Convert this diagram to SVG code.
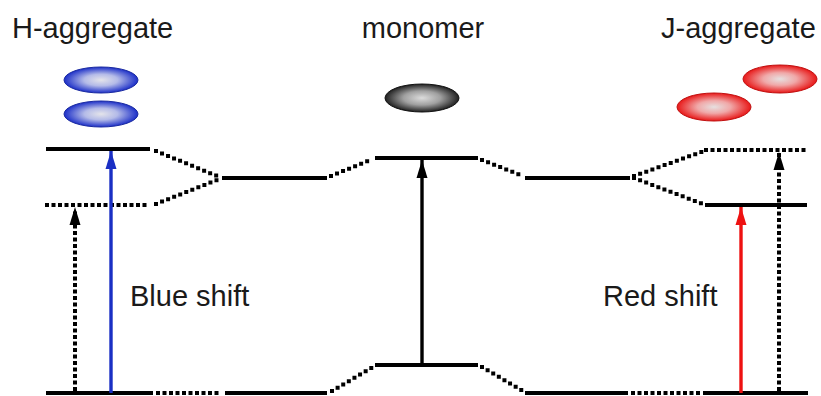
<svg xmlns="http://www.w3.org/2000/svg" width="821" height="396" viewBox="0 0 821 396">
<defs>
<radialGradient id="gBlue" cx="50%" cy="50%" r="50%">
<stop offset="0" stop-color="#e4e4ea"/>
<stop offset="0.45" stop-color="#b4bbe8"/>
<stop offset="1" stop-color="#1c2fc8"/>
</radialGradient>
<radialGradient id="gGray" cx="50%" cy="50%" r="50%">
<stop offset="0" stop-color="#dcdcdc"/>
<stop offset="0.5" stop-color="#a0a0a0"/>
<stop offset="1" stop-color="#202020"/>
</radialGradient>
<radialGradient id="gRed" cx="50%" cy="50%" r="50%">
<stop offset="0" stop-color="#e6e0e0"/>
<stop offset="0.45" stop-color="#f0a8a8"/>
<stop offset="1" stop-color="#e81818"/>
</radialGradient>
<marker id="ahK" markerUnits="userSpaceOnUse" markerWidth="20" markerHeight="12" refX="0" refY="0" orient="auto" overflow="visible">
<path d="M0 0 L-18 -5.5 L-18 5.5 Z" fill="#000"/>
</marker>
<marker id="ahB" markerUnits="userSpaceOnUse" markerWidth="20" markerHeight="12" refX="0" refY="0" orient="auto" overflow="visible">
<path d="M0 0 L-18 -5.5 L-18 5.5 Z" fill="#1a2fc4"/>
</marker>
<marker id="ahR" markerUnits="userSpaceOnUse" markerWidth="20" markerHeight="12" refX="0" refY="0" orient="auto" overflow="visible">
<path d="M0 0 L-18 -5.5 L-18 5.5 Z" fill="#ee1111"/>
</marker>
</defs>
<style>
.lbl{font-family:"Liberation Sans",Arial,sans-serif;font-size:29px;fill:#1a1a1a}
.solid{stroke:#000;stroke-width:3.8;fill:none}
.dot{stroke:#000;stroke-width:4;fill:none;stroke-dasharray:0 6.5;stroke-linecap:square}
.sh{stroke-width:3.4;fill:none}
</style>
<g id="labels">
<text class="lbl" x="12" y="38">H-aggregate</text>
<text class="lbl" x="423" y="38" text-anchor="middle">monomer</text>
<text class="lbl" x="661" y="38">J-aggregate</text>
<text class="lbl" x="130" y="306">Blue shift</text>
<text class="lbl" x="603" y="306">Red shift</text>
</g>
<g id="h-molecules">
<ellipse cx="101" cy="80" rx="37" ry="13" fill="url(#gBlue)" stroke="#1a2aa0" stroke-width="1"/>
<ellipse cx="101" cy="114" rx="37" ry="13" fill="url(#gBlue)" stroke="#1a2aa0" stroke-width="1"/>
</g>
<g id="monomer-molecule">
<ellipse cx="422" cy="98" rx="37" ry="14" fill="url(#gGray)" stroke="#111" stroke-width="1"/>
</g>
<g id="j-molecules">
<ellipse cx="780" cy="79" rx="37" ry="14" fill="url(#gRed)" stroke="#c01010" stroke-width="1"/>
<ellipse cx="714" cy="107" rx="37" ry="14" fill="url(#gRed)" stroke="#c01010" stroke-width="1"/>
</g>
<g id="h-levels">
<line class="solid" x1="46" y1="149" x2="150" y2="149"/>
<line class="dot" x1="47" y1="205" x2="150" y2="205"/>
<line class="solid" x1="46" y1="393" x2="153" y2="393"/>
</g>
<g id="monomer-levels">
<line class="solid" x1="222" y1="178" x2="327" y2="178"/>
<line class="solid" x1="375" y1="158" x2="478" y2="158"/>
<line class="solid" x1="525" y1="178" x2="630" y2="178"/>
<line class="solid" x1="225" y1="393" x2="327" y2="393"/>
<line class="solid" x1="375" y1="365" x2="478" y2="365"/>
<line class="solid" x1="525" y1="393" x2="628" y2="393"/>
</g>
<g id="j-levels">
<line class="dot" x1="706" y1="150" x2="806" y2="150"/>
<line class="solid" x1="705" y1="205" x2="807" y2="205"/>
<line class="solid" x1="703" y1="393" x2="808" y2="393"/>
</g>
<g id="connectors">
<path class="dot" d="M156 151 L222 178"/>
<path class="dot" d="M156 204 L222 178"/>
<path class="dot" d="M331 176 L373 159"/>
<path class="dot" d="M482 160 L523 176"/>
<path class="dot" d="M634 176 L704 151"/>
<path class="dot" d="M634 178 L703 204"/>
<path class="dot" d="M158 393 L221 393"/>
<path class="dot" d="M332 391 L373 367"/>
<path class="dot" d="M482 367 L523 391"/>
<path class="dot" d="M633 393 L700 393"/>
<line class="sh" x1="111" y1="393" x2="111" y2="151" stroke="#1a2fc4" marker-end="url(#ahB)"/>
<line class="dot" x1="75" y1="389" x2="75" y2="207" marker-end="url(#ahK)"/>
<line class="sh" x1="422" y1="365" x2="422" y2="160" stroke="#000" marker-end="url(#ahK)"/>
<line class="sh" x1="741" y1="393" x2="741" y2="207" stroke="#ee1111" marker-end="url(#ahR)"/>
<line class="dot" x1="779" y1="389" x2="779" y2="152" marker-end="url(#ahK)"/>
</g>
</svg>
